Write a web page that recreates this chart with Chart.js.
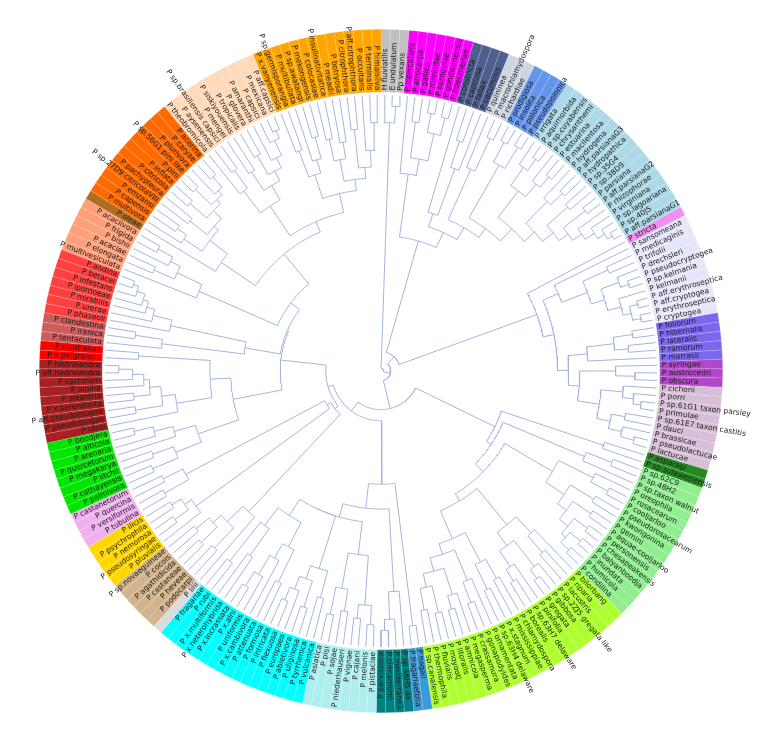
<!DOCTYPE html>
<html>
<head>
<meta charset="utf-8">
<script src="https://cdn.jsdelivr.net/npm/chart.js@4"></script>
<style>
body { margin: 0; background: #fff; }
#wrap { position: relative; width: 768px; height: 743px; }
canvas { position: absolute; left: 0; top: 0; }
</style>
</head>
<body>
<div id="wrap">
<canvas id="ring" width="768" height="743"></canvas>
<canvas id="tree" width="768" height="743"></canvas>
</div>
<script>
// colour band of each clade, clockwise from the top
var groupColors = ['#c0c0c0', '#ff00ff', '#4e5e8e', '#cdd6e0', '#6495ed', '#add8e6', '#ee90ee', '#e6e6fa',
	'#7b68ee', '#b048c8', '#d8bfd8', '#228b22', '#90ee90', '#adff2f', '#3a9ad9', '#008080', '#afeeee',
	'#00ffff', '#dcdcdc', '#d2b48c', '#ffd700', '#f0b0f0', '#00e600', '#a82020', '#ff0000', '#cd5c5c',
	'#ff4040', '#ffa07a', '#b06e20', '#ff6a00', '#ffdab9', '#ffa500'];

var groupLeaves = [
	['H fluviatilis', 'E undulatum', 'Pp vexans'],
	['P intercalaris', 'P afrocarpa', 'P gallica', 'P morindae', 'P kernoviae', 'P gondwanensis', 'P boehmeriae'],
	['P constricta', 'P captiosa', 'P fallax', 'P cacuminis'],
	['P quininea', 'P macrochlamydospora', 'P richardiae'],
	['P prodigiosa', 'P insolita', 'P polonica', 'P pseudopolonica'],
	['P irrigata', 'P aquimorbida', 'P sp.cuyabensis', 'P chrysanthemi', 'P estuarina', 'P macilentosa', 'P hydrogena',
		'P aff.parsianaG3', 'P hydropathica', 'P sp.35G4', 'P sp.38D9', 'P parsiana', 'P aff.parsianaG2', 'P rhizophorae',
		'P virginiana', 'P sp.lagoariana', 'P sp.40J5', 'P aff.parsianaG1'],
	['P stricta'],
	['P sansomeana', 'P medicaginis', 'P trifolii', 'P drechsleri', 'P pseudocryptogea', 'P sp.kelmania', 'P kelmanii',
		'P aff.erythroseptica', 'P aff.cryptogea', 'P erythroseptica', 'P cryptogea'],
	['P foliorum', 'P hibernalis', 'P lateralis', 'P ramorum', 'P marrasii'],
	['P syringae', 'P austrocedri', 'P obscura'],
	['P cichorii', 'P porri', 'P sp.61G1 taxon parsley', 'P primulae', 'P sp.61E7 taxon castitis', 'P dauci',
		'P brassicae', 'P pseudolactucae', 'P lactucae'],
	['P asparagi', 'P sp.sulawesiensis'],
	['P sp.62C9', 'P sp.48H2', 'P sp.taxon walnut', 'P oreophila', 'P rosacearum', 'P cooljarloo', 'P pseudorosacearum',
		'P kwongonina', 'P gemini', 'P aquae-cooljarloo', 'P personensis', 'P chesapeakensis', 'P balyanboodja',
		'P inundata', 'P humicola', 'P condilina'],
	['P bilorbang', 'P riparia', 'P lacustris', 'P sp.2ZJ5 gregata like', 'P gibbosa', 'P gregata', 'P pinifolia',
		'P sp.63H7 delaware', 'P borealis', 'P chlamydospora', 'P mississippiae', 'P x.stagnum', 'P sp.63H4 delaware',
		'P ornamentata', 'P gonapodyides', 'P crassamura', 'P megasperma', 'P amnicola', 'P litoralis', 'P moyootj',
		'P fluvialis', 'P thermophila', 'P sp.canalensis'],
	['P nagaii', 'P fragariaefolia'],
	['P sp.46H5 ax', 'P mediterranea', 'P cinnamomi', 'P parvispora'],
	['P pistaciae', 'P melonis', 'P cajani', 'P vignae', 'P niederhauseri', 'P sojae', 'P pisi', 'P asiatica'],
	['P vulcanica', 'P tyrrhenica', 'P uliginosa', 'P abietivora', 'P europaea', 'P flexuosa', 'P intricata',
		'P formosa', 'P attenuata', 'P x.cambivora', 'P uniformis', 'P x.alni', 'P x.incrassata', 'P x.heterohybrida',
		'P x.multiformis', 'P rubi', 'P fragariae'],
	['P lilii'],
	['P podocarpi', 'P heveae', 'P castaneae', 'P agathidicida', 'P cocois', 'P sp.novaeguineae'],
	['P pluvialis', 'P pseudosyringae', 'P nemorosa', 'P psychrophila', 'P ilicis'],
	['P tubulina', 'P versiformis', 'P quercina', 'P castanetorum'],
	['P palmivora', 'P cathayensis', 'P litchii', 'P megakarya', 'P quercetorum', 'P arenaria', 'P alticola', 'P boodjera'],
	['P idaei', 'P pseudotsugae', 'P aff.pseudotsugae', 'P x.serendipita', 'P aleatoria', 'P alpina', 'P cactorum',
		'P aff.hedraiandra', 'P hedraiandra'],
	['P x.pelgrandis', 'P nicotianae'],
	['P tentaculata', 'P iranica', 'P clandestina'],
	['P phaseoli', 'P urerae', 'P mirabilis', 'P ipomoeae', 'P infestans', 'P betacei', 'P andina'],
	['P multivesiculata', 'P elongata', 'P acaciae', 'P bishii', 'P frigida', 'P acaciivora'],
	['P oleae'],
	['P multivora', 'P capensis', 'P emzansi', 'P sp.27D9 citricolaVIII', 'P pachypleura', 'P citricola', 'P inflata',
		'P pini', 'P sp.56G1 pini like', 'P plurivora', 'P caryae', 'P acerina'],
	['P theobromicola', 'P aysenensis', 'P sp.brasiliensis capsici', 'P mengei', 'P siskiyouensis', 'P tropicalis',
		'P glovera', 'P amaranthi', 'P capsici', 'P mexicana', 'P aff.capsici'],
	['P x.vanyenensis', 'P sp.germisporangia', 'P multibullata', 'P sp.awatangi', 'P mekongensis', 'P colocasiae',
		'P insulinativitatica', 'P meadii', 'P botryosa', 'P citrophthora', 'P aff.citrophthora', 'P occultans',
		'P terminalis', 'P himalsilva'],
];

// tree: [node height (share of tip radius), children...], leaves by name
var tOut = [0.9, 'H fluviatilis', [0.96, 'E undulatum', 'Pp vexans']];
var t10 = [0.72, 'P intercalaris', [0.78, [0.91, 'P afrocarpa', 'P gallica'],
	[0.88, [0.95, 'P morindae', 'P kernoviae'], [0.945, 'P gondwanensis', 'P boehmeriae']]]];
var t9slate = [0.6, 'P constricta', [0.78, [0.88, 'P captiosa', 'P fallax'], 'P cacuminis']];
var t9grey = [0.8, 'P quininea', [0.93, 'P macrochlamydospora', 'P richardiae']];
var t9corn = [0.86, [0.94, 'P prodigiosa', 'P insolita'], [0.95, 'P polonica', 'P pseudopolonica']];
var t9powder = [0.7, [0.82, [0.9, 'P irrigata', [0.95, 'P aquimorbida', 'P sp.cuyabensis']], [0.88, 'P chrysanthemi', [0.93, 'P estuarina', 'P macilentosa']]],
	[0.75, [0.86, 'P hydrogena', [0.92, 'P aff.parsianaG3', 'P hydropathica']],
		[0.8, [0.9, 'P sp.35G4', 'P sp.38D9'], [0.84, [0.94, 'P parsiana', 'P aff.parsianaG2'],
			[0.88, 'P rhizophorae', [0.92, 'P virginiana', [0.95, 'P sp.lagoariana', [0.97, 'P sp.40J5', 'P aff.parsianaG1']]]]]]]];
var tTop = [0.49, t10, [0.55, t9slate, [0.6, t9grey, [0.64, t9corn, t9powder]]]];

var tLav = [0.7, 'P sansomeana', [0.8, [0.9, 'P medicaginis', 'P trifolii'],
	[0.85, [0.92, 'P drechsleri', [0.95, 'P pseudocryptogea', 'P sp.kelmania']],
		[0.9, 'P kelmanii', [0.93, [0.96, 'P aff.erythroseptica', 'P aff.cryptogea'], [0.96, 'P erythroseptica', 'P cryptogea']]]]]];
var tSlate = [0.75, [0.85, [0.92, 'P foliorum', 'P hibernalis'], [0.9, 'P lateralis', 'P ramorum']], 'P marrasii'];
var tPurple = [0.85, 'P syringae', [0.92, 'P austrocedri', 'P obscura']];
var tThistle = [0.8, [0.88, 'P cichorii', [0.92, 'P porri', [0.95, 'P sp.61G1 taxon parsley', 'P primulae']]],
	[0.85, [0.9, 'P sp.61E7 taxon castitis', 'P dauci'], [0.9, 'P brassicae', [0.95, 'P pseudolactucae', 'P lactucae']]]];
var t8 = [0.6, 'P stricta', [0.64, tLav, [0.68, tSlate, [0.72, tPurple, tThistle]]]];

var tDG = [0.85, 'P asparagi', 'P sp.sulawesiensis'];
var tLGa = [0.8, [0.9, 'P sp.62C9', 'P sp.48H2'], 'P sp.taxon walnut'];
var tLGb = [0.72, [0.86, 'P oreophila', [0.93, 'P rosacearum', 'P cooljarloo']],
	[0.8, [0.9, 'P pseudorosacearum', 'P kwongonina'], [0.84, [0.92, 'P gemini', 'P aquae-cooljarloo'],
		[0.88, [0.94, 'P personensis', 'P chesapeakensis'], [0.9, [0.95, 'P balyanboodja', 'P inundata'], [0.94, 'P humicola', 'P condilina']]]]]];
var tGY = [0.55, [0.72, [0.8, 'P bilorbang', [0.88, 'P riparia', 'P lacustris']],
		[0.78, [0.9, 'P sp.2ZJ5 gregata like', [0.94, 'P gibbosa', 'P gregata']], [0.85, 'P pinifolia', [0.9, 'P sp.63H7 delaware', 'P borealis']]]],
	[0.66, [0.78, [0.86, 'P chlamydospora', 'P mississippiae'], [0.88, 'P x.stagnum', 'P sp.63H4 delaware']],
		[0.7, [0.82, 'P ornamentata', [0.9, 'P gonapodyides', 'P crassamura']],
			[0.75, [0.85, 'P megasperma', [0.9, 'P amnicola', 'P litoralis']],
				[0.8, [0.9, 'P moyootj', 'P fluvialis'], [0.88, 'P thermophila', 'P sp.canalensis']]]]]];
var t6 = [0.46, tDG, [0.48, tLGa, [0.52, tLGb, tGY]]];

var tDodger = [0.93, 'P nagaii', 'P fragariaefolia'];
var tTeal = [0.8, 'P sp.46H5 ax', [0.9, 'P mediterranea', [0.94, 'P cinnamomi', 'P parvispora']]];
var tPale = [0.67, [0.85, [0.92, 'P pistaciae', 'P melonis'], [0.9, 'P cajani', 'P vignae']],
	[0.8, [0.88, 'P niederhauseri', 'P sojae'], [0.9, 'P pisi', 'P asiatica']]];
var tCyan = [0.55, [0.75, [0.85, 'P vulcanica', 'P tyrrhenica'], [0.8, [0.9, 'P uliginosa', 'P abietivora'], [0.85, 'P europaea', [0.9, 'P flexuosa', 'P intricata']]]],
	[0.62, [0.72, [0.85, 'P formosa', 'P attenuata'], [0.78, 'P x.cambivora', [0.86, 'P uniformis', [0.92, 'P x.alni', 'P x.incrassata']]]],
		[0.7, [0.82, 'P x.heterohybrida', 'P x.multiformis'], [0.88, 'P rubi', 'P fragariae']]]];
var t7 = [0.41, tDodger, [0.5, tTeal, [0.55, tPale, tCyan]]];

var tTan = [0.7, 'P lilii', [0.78, [0.88, 'P podocarpi', 'P heveae'], [0.82, [0.9, 'P castaneae', 'P agathidicida'], [0.88, 'P cocois', 'P sp.novaeguineae']]]];
var tGold = [0.83, 'P pluvialis', [0.86, [0.92, 'P pseudosyringae', 'P nemorosa'], [0.9, 'P psychrophila', 'P ilicis']]];
var tPlum = [0.8, [0.9, 'P tubulina', 'P versiformis'], [0.88, 'P quercina', 'P castanetorum']];
var tLime = [0.7, [0.8, [0.9, 'P palmivora', 'P cathayensis'], [0.88, 'P litchii', 'P megakarya']],
	[0.78, 'P quercetorum', [0.85, 'P arenaria', [0.92, 'P alticola', 'P boodjera']]]];
var tDarkRed = [0.75, 'P idaei', [0.8, [0.9, 'P pseudotsugae', 'P aff.pseudotsugae'],
	[0.84, [0.9, 'P x.serendipita', 'P aleatoria'], [0.86, 'P alpina', [0.9, 'P cactorum', [0.95, 'P aff.hedraiandra', 'P hedraiandra']]]]]];
var tRed = [0.88, 'P x.pelgrandis', 'P nicotianae'];
var tLeft = [0.545, tLime, [0.62, tDarkRed, tRed]];

var tIndian = [0.8, 'P tentaculata', [0.9, 'P iranica', 'P clandestina']];
var tLightRed = [0.78, 'P phaseoli', [0.85, 'P urerae', [0.88, 'P mirabilis', [0.9, 'P ipomoeae', [0.93, 'P infestans', [0.95, 'P betacei', 'P andina']]]]]];
var tSalmon = [0.72, 'P multivesiculata', [0.82, [0.9, 'P elongata', 'P acaciae'], [0.86, 'P bishii', [0.92, 'P frigida', 'P acaciivora']]]];
var tOrRed = [0.7, 'P oleae', [0.78, [0.86, 'P multivora', [0.9, 'P capensis', 'P emzansi']],
	[0.8, [0.88, 'P sp.27D9 citricolaVIII', 'P pachypleura'], [0.84, [0.92, 'P citricola', 'P inflata'],
		[0.86, [0.94, 'P pini', 'P sp.56G1 pini like'], [0.88, 'P plurivora', [0.93, 'P caryae', 'P acerina']]]]]]];
var tPeach = [0.72, [0.82, 'P theobromicola', [0.9, 'P aysenensis', 'P sp.brasiliensis capsici']],
	[0.78, [0.86, 'P mengei', 'P siskiyouensis'], [0.82, [0.9, 'P tropicalis', 'P glovera'],
		[0.86, 'P amaranthi', [0.92, 'P capsici', [0.95, 'P mexicana', 'P aff.capsici']]]]]];
var tOrange = [0.66, [0.75, [0.85, 'P x.vanyenensis', 'P sp.germisporangia'], [0.8, 'P multibullata', [0.88, 'P sp.awatangi', 'P mekongensis']]],
	[0.7, [0.78, [0.86, 'P colocasiae', 'P insulinativitatica'], [0.84, 'P meadii', 'P botryosa']],
		[0.74, [0.88, 'P citrophthora', 'P aff.citrophthora'], [0.8, 'P occultans', [0.9, 'P terminalis', 'P himalsilva']]]]];
var t2 = [0.37, [0.5, tIndian, tLightRed], [0.41, tSalmon, [0.55, tOrRed, [0.59, tPeach, tOrange]]]];

var treeRoot = [0.01, tOut, [0.035, [0.07, tTop, t8],
	[0.14, t6, [0.18, t7, [0.2, [0.215, tTan, [0.23, tGold, tPlum]], [0.365, tLeft, t2]]]]]];

var leaves = [];
var leafColors = [];
groupLeaves.forEach(function (names, g) {
	names.forEach(function (n) {
		leaves.push(n);
		leafColors.push(groupColors[g]);
	});
});
var N = leaves.length;
var TIP = 276;
var leafIndex = {};
leaves.forEach(function (n, i) { leafIndex[n] = i; });

// polar -> chart units, angle clockwise from the top
function pt(r, a) {
	return { x: r * Math.sin(a), y: r * Math.cos(a) };
}
var gap = { x: NaN, y: NaN };
var treeLines = [];
function layout(node) {
	if (typeof node === 'string') {
		return { a: (leafIndex[node] + 0.5) * 2 * Math.PI / N, h: 1 };
	}
	var h = node[0];
	var kids = node.slice(1).map(layout);
	var a0 = kids[0].a;
	var a1 = kids[kids.length - 1].a;
	var steps = Math.max(2, Math.ceil((a1 - a0) / 0.01));
	for (var s = 0; s <= steps; s++) {
		treeLines.push(pt(h * TIP, a0 + (a1 - a0) * s / steps));
	}
	treeLines.push(gap);
	kids.forEach(function (k) {
		treeLines.push(pt(h * TIP, k.a), pt(k.h * TIP, k.a), gap);
	});
	return { a: (a0 + a1) / 2, h: h };
}
layout(treeRoot);

var pad = { left: 39, right: 45, top: 29, bottom: 30 };

var leafLabels = {
	id: 'leafLabels',
	afterDatasetsDraw: function (chart) {
		var ctx = chart.ctx;
		var meta = chart.getDatasetMeta(0);
		ctx.save();
		ctx.font = '7.5px "DejaVu Sans"';
		ctx.fillStyle = '#1e1e1e';
		ctx.textBaseline = 'middle';
		meta.data.forEach(function (arc, i) {
			var p = arc.getProps(['x', 'y', 'startAngle', 'endAngle', 'innerRadius']);
			var a = (p.startAngle + p.endAngle) / 2;
			var r = p.innerRadius + 2;
			ctx.save();
			ctx.translate(p.x, p.y);
			ctx.rotate(a);
			if (Math.cos(a) < 0) {
				ctx.translate(r, 0);
				ctx.rotate(Math.PI);
				ctx.textAlign = 'right';
				ctx.fillText(leaves[i], 0, 0);
			} else {
				ctx.textAlign = 'left';
				ctx.fillText(leaves[i], r, 0);
			}
			ctx.restore();
		});
		ctx.restore();
	},
};

new Chart(document.getElementById('ring'), {
	type: 'doughnut',
	data: {
		labels: leaves,
		datasets: [{
			data: leaves.map(function () { return 1; }),
			backgroundColor: leafColors,
			borderColor: 'rgba(255,255,255,0.25)',
			borderWidth: 0.6,
		}],
	},
	options: {
		responsive: false,
		animation: false,
		cutout: '81.6%',
		rotation: 0,
		layout: { padding: pad },
		plugins: { legend: { display: false }, tooltip: { enabled: false } },
	},
	plugins: [leafLabels],
});

new Chart(document.getElementById('tree'), {
	type: 'scatter',
	data: {
		datasets: [{
			data: treeLines,
			showLine: true,
			spanGaps: false,
			borderColor: '#a4b5dc',
			borderWidth: 1,
			pointRadius: 0,
			tension: 0,
		}],
	},
	options: {
		responsive: false,
		animation: false,
		layout: { padding: pad },
		scales: {
			x: { type: 'linear', min: -342, max: 342, display: false },
			y: { type: 'linear', min: -342, max: 342, display: false },
		},
		plugins: { legend: { display: false }, tooltip: { enabled: false } },
	},
});
</script>
</body>
</html>
